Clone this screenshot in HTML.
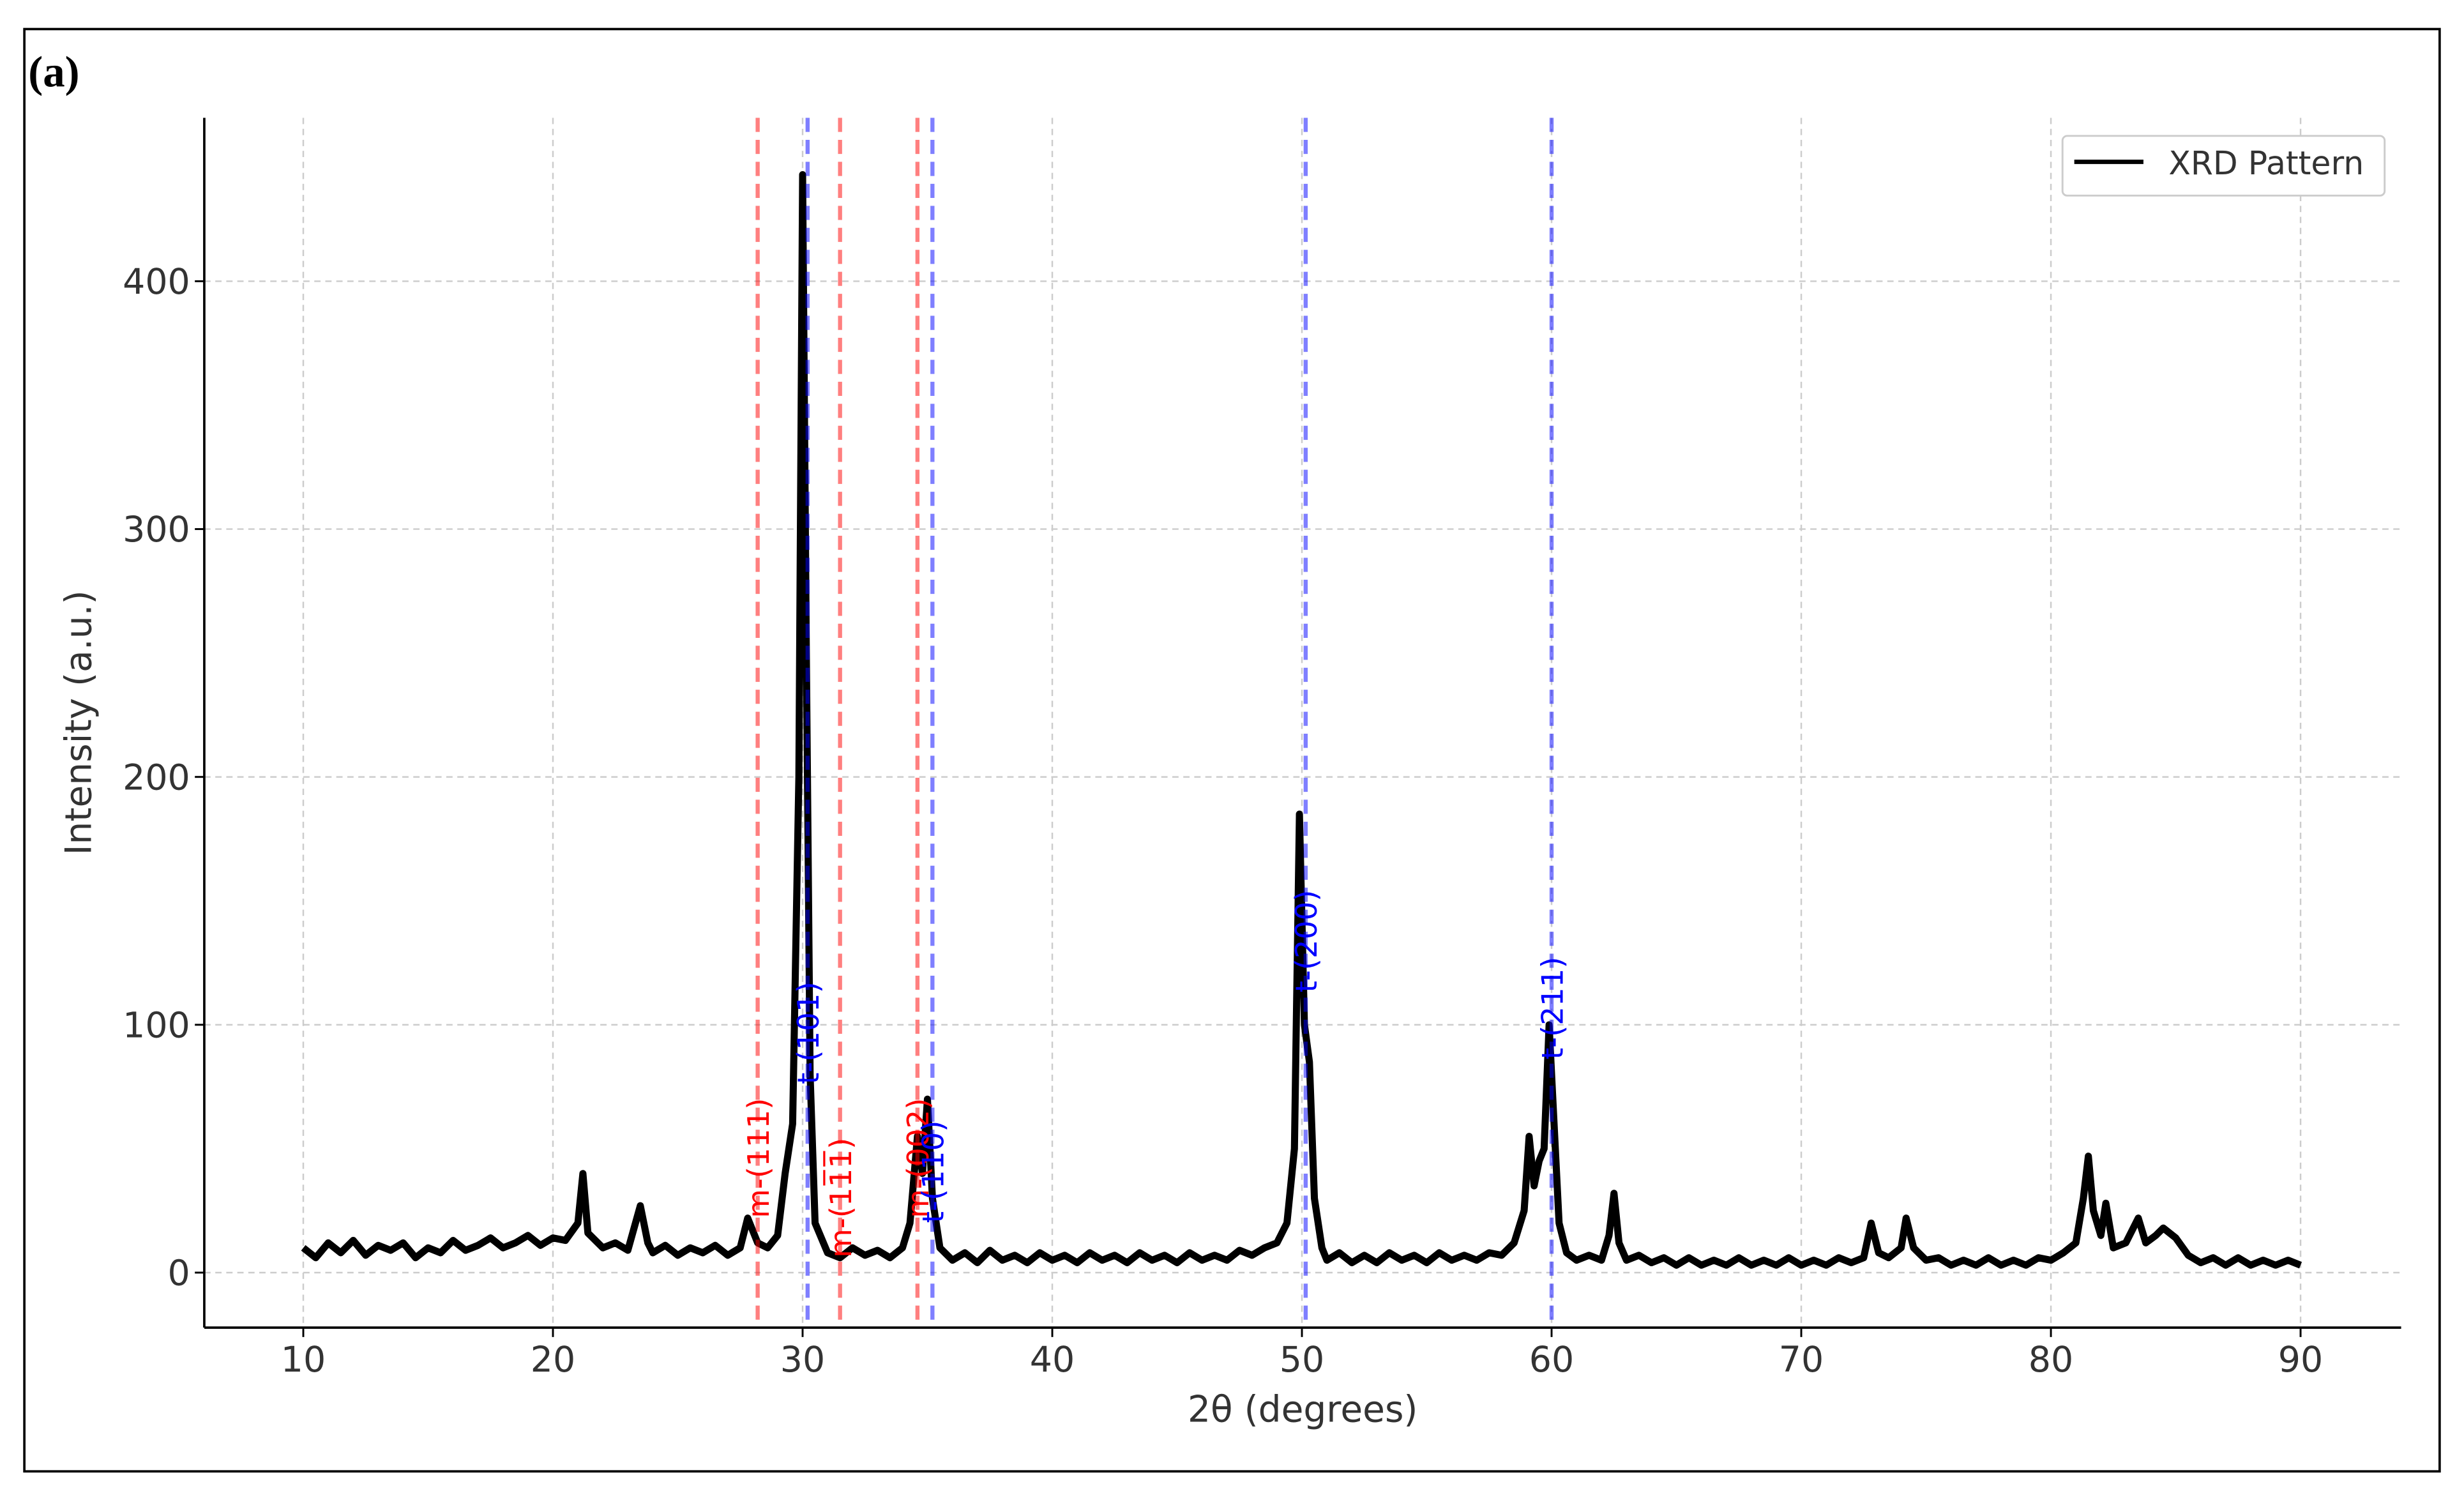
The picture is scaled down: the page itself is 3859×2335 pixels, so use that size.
<!DOCTYPE html>
<html><head><meta charset="utf-8">
<style>
html,body{margin:0;padding:0;background:#fff;}
svg{display:block;}
text{font-family:"DejaVu Sans","Liberation Sans",sans-serif;}
</style></head>
<body>
<svg id="chart" width="3859" height="2335" viewBox="0 0 1568 949" preserveAspectRatio="none" xmlns="http://www.w3.org/2000/svg">
<rect x="0" y="0" width="1568" height="949" fill="#fff"/>
<rect x="15.5" y="18.5" width="1537" height="918" fill="none" stroke="#000" stroke-width="1.5"/>
<text x="18" y="55" font-size="28" font-weight="bold" style="font-family:'Liberation Serif',serif">(a)</text>
<g id="grid"></g>
<g id="data"></g>
<g id="refs"></g>
<g id="axes"></g>
<g>
<rect x="1312.5" y="86.5" width="205" height="38" rx="3" fill="#fff" stroke="#ccc" stroke-width="1.2"/>
<line x1="1320" y1="103" x2="1364" y2="103" stroke="#000" stroke-width="2.8"/>
<text x="1380" y="111" font-size="20.5" fill="#333">XRD Pattern</text>
</g>
<text x="829" y="905" font-size="23" fill="#333" text-anchor="middle">2θ (degrees)</text>
<text x="0" y="0" font-size="23" fill="#333" text-anchor="middle" transform="translate(58,460) rotate(-90)">Intensity (a.u.)</text>
</svg>
<script>
const twoTheta=[10,10.5,11,11.5,12,12.5,13,13.5,14,14.5,15,15.5,16,16.5,17,17.5,18,18.5,19,19.5,20,20.5,21,21.2,21.4,22,22.5,23,23.5,23.8,24,24.5,25,25.5,26,26.5,27,27.5,27.8,28.2,28.6,29,29.3,29.6,29.85,30,30.15,30.3,30.5,31,31.5,32,32.5,33,33.5,34,34.3,34.6,34.8,35,35.2,35.5,36,36.5,37,37.5,38,38.5,39,39.5,40,40.5,41,41.5,42,42.5,43,43.5,44,44.5,45,45.5,46,46.5,47,47.5,48,48.5,49,49.4,49.7,49.9,50.1,50.3,50.5,50.8,51,51.5,52,52.5,53,53.5,54,54.5,55,55.5,56,56.5,57,57.5,58,58.5,58.9,59.1,59.3,59.5,59.7,59.9,60.1,60.3,60.6,61,61.5,62,62.3,62.5,62.7,63,63.5,64,64.5,65,65.5,66,66.5,67,67.5,68,68.5,69,69.5,70,70.5,71,71.5,72,72.5,72.8,73.1,73.5,74,74.2,74.5,75,75.5,76,76.5,77,77.5,78,78.5,79,79.5,80,80.5,81,81.3,81.5,81.7,82,82.2,82.5,83,83.5,83.8,84.2,84.5,85,85.5,86,86.5,87,87.5,88,88.5,89,89.5,90];
const intensity=[10,6,12,8,13,7,11,9,12,6,10,8,13,9,11,14,10,12,15,11,14,13,20,40,16,10,12,9,27,12,8,11,7,10,8,11,7,10,22,12,10,15,40,60,200,443,250,80,20,8,6,10,7,9,6,10,20,55,40,70,30,10,5,8,4,9,5,7,4,8,5,7,4,8,5,7,4,8,5,7,4,8,5,7,5,9,7,10,12,20,50,185,100,85,30,10,5,8,4,7,4,8,5,7,4,8,5,7,5,8,7,12,25,55,35,45,50,100,60,20,8,5,7,5,15,32,12,5,7,4,6,3,6,3,5,3,6,3,5,3,6,3,5,3,6,4,6,20,8,6,10,22,10,5,6,3,5,3,6,3,5,3,6,5,8,12,30,47,25,15,28,10,12,22,12,15,18,14,7,4,6,3,6,3,5,3,5,3];
const xTicks=[10,20,30,40,50,60,70,80,90];
const yTicks=[0,100,200,300,400];
const refPos=[28.2,31.5,34.6,30.2,35.2,50.15,60.0];
const refLabels=["m-(111)","m-(11\u03051\u0305)","m-(002)","t-(101)","t-(110)","t-(200)","t-(211)"];
const refPhase=["m","m","m","t","t","t","t"];
const labelY=[22,6,22,76,20,113,86];

const NS="http://www.w3.org/2000/svg";
const X0=130,X1=1528,YT=75,YB=845;
function sx(v){return 193+(v-10)*(1464-193)/80;}
function sy(v){return 810-v*(810-179)/400;}
function mk(tag,attrs,parent){const e=document.createElementNS(NS,tag);for(const k in attrs)e.setAttribute(k,attrs[k]);parent.appendChild(e);return e;}
const grid=document.getElementById('grid'),axes=document.getElementById('axes'),dataG=document.getElementById('data'),refs=document.getElementById('refs');
xTicks.forEach(t=>{
 const g=mk('line',{x1:sx(t),x2:sx(t),y1:YT,y2:YB,stroke:'#ccc','stroke-width':1,'stroke-dasharray':'4,3'},grid);
 
 
 const tk=mk('line',{x1:sx(t),x2:sx(t),y1:YB,y2:YB+6,stroke:'#000','stroke-width':1.2},axes);
 
 
 const tx=mk('text',{x:sx(t),y:YB+28,'font-size':22.5,fill:'#333','text-anchor':'middle'},axes);
 tx.textContent=t;
 
 
});
yTicks.forEach(t=>{
 const g=mk('line',{x1:X0,x2:X1,y1:sy(t),y2:sy(t),stroke:'#ccc','stroke-width':1,'stroke-dasharray':'4,3'},grid);
 
 
 const tk=mk('line',{x1:X0-6,x2:X0,y1:sy(t),y2:sy(t),stroke:'#000','stroke-width':1.2},axes);
 
 
 const tx=mk('text',{x:X0-9,y:sy(t)+8,'font-size':22.5,fill:'#333','text-anchor':'end'},axes);
 tx.textContent=t;
 
 
});
const sp1=mk('line',{x1:X0,x2:X0,y1:YT,y2:YB,stroke:'#000','stroke-width':1.5},axes);


const sp2=mk('line',{x1:X0,x2:X1,y1:YB,y2:YB,stroke:'#000','stroke-width':1.5},axes);


let d='';
twoTheta.forEach((v,i)=>{d+=(i?'L':'M')+sx(v).toFixed(2)+','+sy(intensity[i]).toFixed(2);});
const line=mk('path',{d:d,fill:'none',stroke:'#000','stroke-width':4.5,'stroke-linejoin':'round'},dataG);


refPos.forEach((p,i)=>{
 const col=refPhase[i]==='m'?'#ff0000':'#0000ff';
 const l=mk('line',{x1:sx(p),x2:sx(p),y1:YT,y2:YB,stroke:col,'stroke-opacity':0.5,'stroke-width':2.6,'stroke-dasharray':'9,5'},refs);
 
 
 const t=mk('text',{x:0,y:0,'font-size':19,fill:col,transform:'translate('+(sx(p)+7)+','+sy(labelY[i])+') rotate(-90)'},refs);
 t.textContent=refLabels[i];
 
 
});
</script>
</body></html>
